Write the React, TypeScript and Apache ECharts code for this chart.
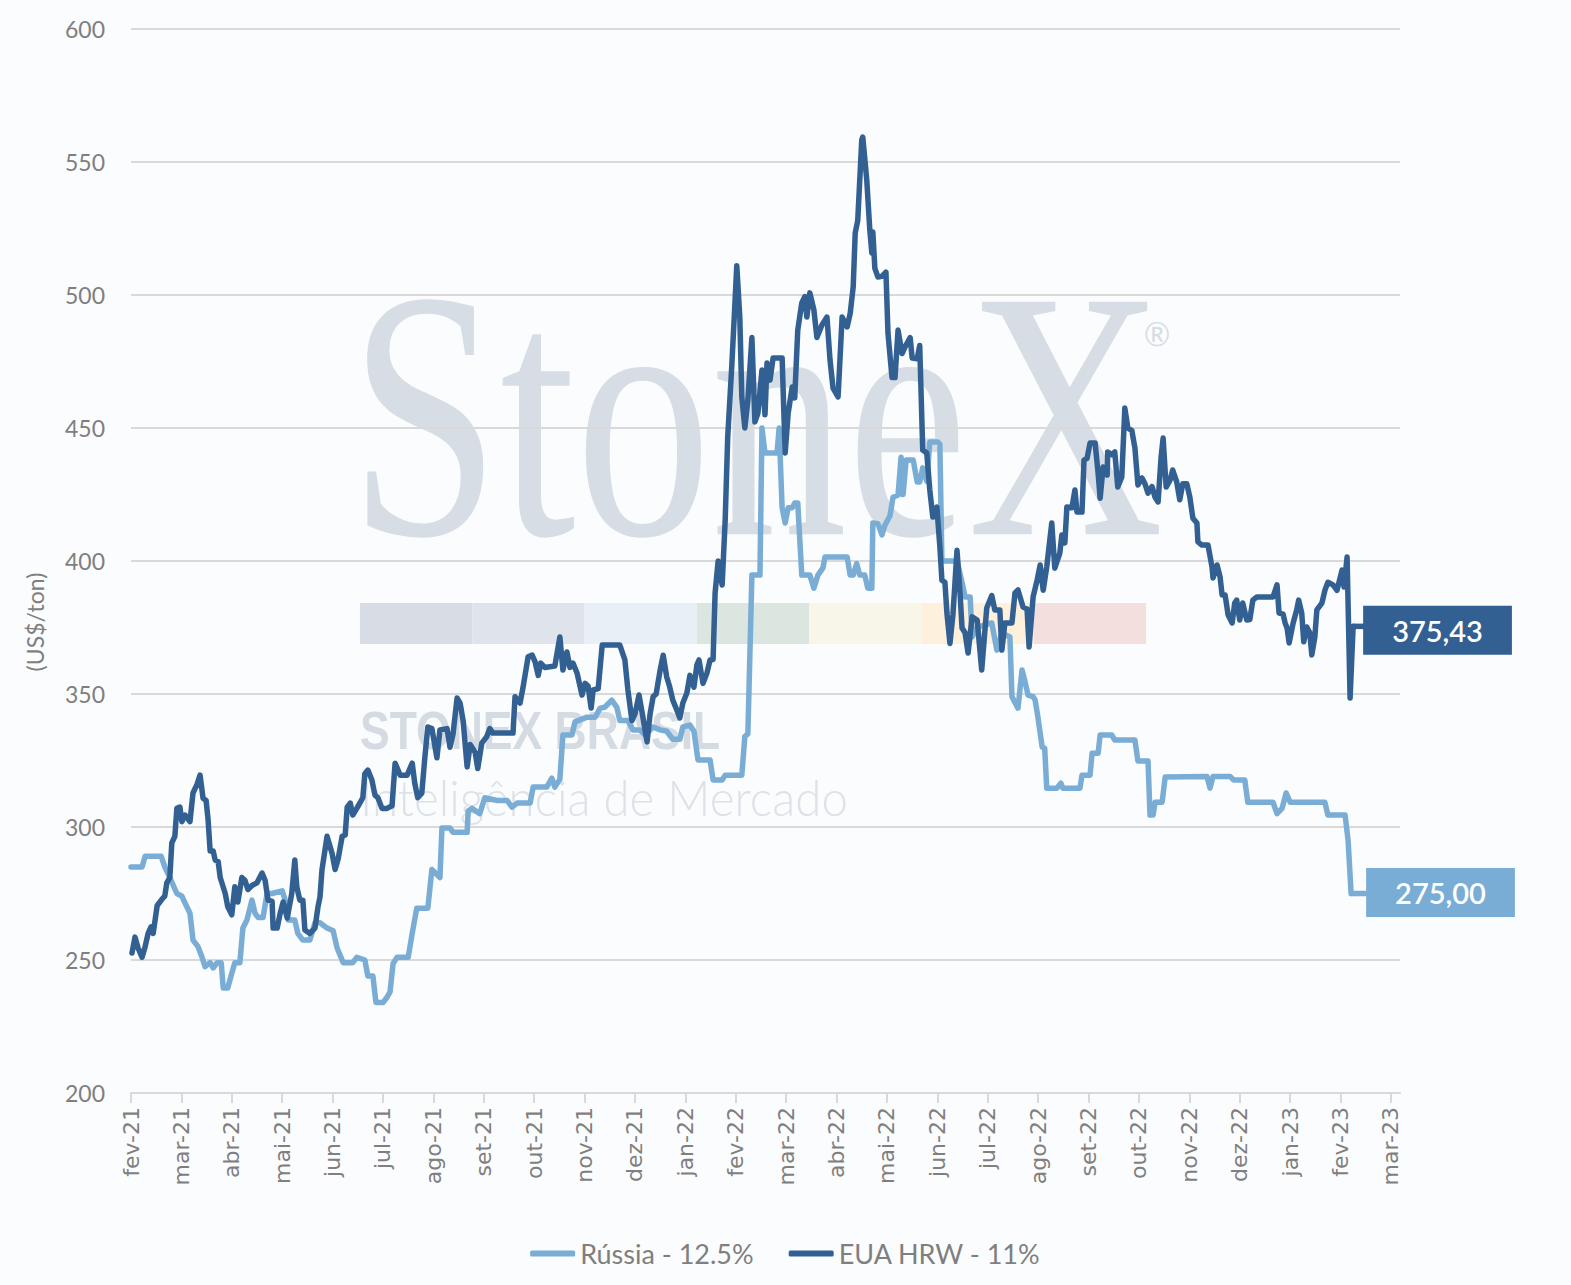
import React, { useEffect, useRef } from "react";
import * as echarts from "echarts";

const monthLabels = [
  "fev-21", "mar-21", "abr-21", "mai-21", "jun-21", "jul-21", "ago-21", "set-21", "out-21", "nov-21", "dez-21",
  "jan-22", "fev-22", "mar-22", "abr-22", "mai-22", "jun-22", "jul-22", "ago-22", "set-22", "out-22", "nov-22", "dez-22",
  "jan-23", "fev-23", "mar-23",
];
const monthTicks = monthLabels.map((_, i) => i);

const russiaName = "Rússia - 12.5%";
const euaName = "EUA HRW - 11%";
const yAxisTitle = "(US$/ton)";
const yMin = 200;
const yMax = 600;
const yStep = 50;

// [month index since fev-21, US$/ton]
const russia: [number, number][] = [
  [0, 285], [0.22, 285], [0.28, 289], [0.6, 289], [0.67, 285], [0.77, 281], [0.91, 275], [1.01, 274], [1.07, 271.5], [1.17, 267.6],
  [1.23, 257.5], [1.33, 255], [1.41, 251], [1.47, 247.5], [1.57, 249], [1.63, 247], [1.71, 249], [1.79, 249], [1.83, 239.5], [1.92, 239.5],
  [2.0, 245], [2.06, 249], [2.16, 249], [2.22, 262], [2.3, 265], [2.4, 272.5], [2.46, 267.6], [2.52, 266], [2.62, 266], [2.7, 275],
  [2.8, 275], [3.0, 276], [3.06, 272.5], [3.12, 265], [3.25, 265], [3.31, 260], [3.41, 257.5], [3.55, 257.5], [3.65, 264], [3.75, 264],
  [3.89, 262], [4.01, 261], [4.09, 254.5], [4.21, 249], [4.4, 249], [4.48, 251], [4.64, 250], [4.7, 244], [4.8, 244], [4.86, 234],
  [5.0, 234], [5.08, 236], [5.14, 238], [5.2, 248.7], [5.28, 251], [5.5, 251], [5.58, 260], [5.67, 269.5], [5.89, 269.5], [5.97, 284],
  [6.13, 281], [6.17, 299.6], [6.33, 299.6], [6.39, 298], [6.67, 298], [6.69, 306], [6.77, 307], [6.92, 305], [7.02, 311], [7.26, 310],
  [7.46, 310], [7.56, 307.5], [7.66, 309], [7.92, 309], [7.98, 315], [8.25, 315], [8.35, 318.4], [8.41, 315], [8.51, 318], [8.57, 334.6],
  [8.75, 334.6], [8.81, 339.5], [9.05, 341.3], [9.21, 341.3], [9.31, 344.7], [9.4, 345], [9.54, 347.7], [9.64, 345], [9.7, 340], [9.86, 340],
  [9.96, 336.5], [10.1, 336.5], [10.2, 334.6], [10.36, 337.6], [10.5, 336.5], [10.63, 336], [10.75, 333], [10.89, 333], [10.95, 337.6], [11.09, 338.3],
  [11.17, 336], [11.25, 325.2], [11.49, 325.2], [11.55, 317.7], [11.73, 317.7], [11.79, 319.5], [12.12, 319.5], [12.18, 334], [12.24, 335], [12.32, 394.7],
  [12.48, 394.7], [12.52, 450], [12.58, 440.6], [12.82, 440.6], [12.86, 450], [12.92, 420], [12.98, 414.3], [13.04, 420], [13.12, 420], [13.17, 421.8],
  [13.23, 421.8], [13.31, 394.7], [13.47, 394.7], [13.55, 389.8], [13.63, 394.7], [13.73, 397.4], [13.77, 401.5], [14.21, 401.5], [14.27, 394.7], [14.33, 394.7],
  [14.4, 399], [14.46, 394.7], [14.56, 394.7], [14.62, 389.8], [14.7, 389.8], [14.72, 414.3], [14.82, 414], [14.9, 409.8], [14.96, 413.5], [15.06, 417],
  [15.12, 424], [15.22, 424.8], [15.28, 439], [15.32, 425], [15.38, 438], [15.52, 438], [15.6, 429.7], [15.65, 429.7], [15.71, 435], [15.79, 430],
  [15.85, 444.7], [16.01, 444.7], [16.05, 444], [16.09, 400], [16.39, 400], [16.49, 392], [16.55, 386.5], [16.65, 386.5], [16.69, 371.4], [16.79, 375],
  [16.94, 376], [17.08, 376.7], [17.18, 366.5], [17.28, 372.9], [17.44, 371.4], [17.48, 349], [17.6, 344.7], [17.68, 359], [17.74, 354.6], [17.8, 349.6],
  [17.9, 349], [17.94, 347.7], [17.99, 342], [18.08, 330], [18.13, 329.7], [18.17, 314.6], [18.37, 314.6], [18.45, 316.5], [18.49, 314.6], [18.83, 314.6],
  [18.87, 319.5], [19.03, 319.5], [19.07, 327.7], [19.19, 327.7], [19.23, 334.6], [19.46, 334.6], [19.52, 332.7], [19.92, 332.7], [19.98, 324.8], [20.18, 324.8],
  [20.22, 304.5], [20.28, 304.5], [20.32, 309.3], [20.46, 309.3], [20.52, 318.8], [21.35, 319], [21.41, 314.6], [21.47, 319], [21.81, 319], [21.88, 317.7],
  [22.1, 317.7], [22.16, 309.3], [22.66, 309.3], [22.74, 305], [22.84, 307], [22.92, 312.8], [23.0, 309.3], [23.69, 309.3], [23.75, 304.5], [24.09, 304.5],
  [24.15, 295], [24.21, 275],
];

const eua: [number, number][] = [
  [0.02, 252.6], [0.08, 258.6], [0.14, 254.5], [0.22, 251], [0.28, 255], [0.34, 260], [0.4, 262.5], [0.44, 260], [0.52, 270.5], [0.62, 273],
  [0.67, 274], [0.71, 279], [0.77, 281], [0.81, 294], [0.87, 296.5], [0.91, 307], [0.97, 307.5], [1.01, 302], [1.07, 304.5], [1.17, 302],
  [1.23, 312.8], [1.31, 316], [1.37, 319.5], [1.43, 310.8], [1.49, 310], [1.53, 302.6], [1.57, 291], [1.63, 291], [1.67, 287.6], [1.73, 287],
  [1.77, 281], [1.87, 275], [1.92, 270], [2.0, 267], [2.06, 277.5], [2.12, 271.8], [2.2, 281], [2.26, 280], [2.32, 276.5], [2.4, 278],
  [2.5, 279], [2.6, 282.7], [2.66, 280], [2.72, 272.5], [2.8, 272], [2.82, 262], [2.9, 262], [2.96, 267.6], [3.02, 271.8], [3.1, 265.8],
  [3.19, 275], [3.25, 287.6], [3.29, 277.5], [3.35, 272.5], [3.41, 272.5], [3.45, 261.3], [3.55, 260], [3.65, 262], [3.71, 270], [3.75, 273.7],
  [3.79, 284], [3.89, 296.5], [3.99, 290], [4.05, 284], [4.11, 288], [4.19, 296.5], [4.25, 297], [4.29, 307.5], [4.35, 309], [4.4, 304.5],
  [4.48, 307], [4.54, 309], [4.6, 311], [4.64, 320], [4.7, 321.4], [4.78, 317.7], [4.84, 312], [4.9, 311], [4.98, 307], [5.08, 307],
  [5.18, 308], [5.24, 324], [5.34, 319.5], [5.48, 319.5], [5.58, 324], [5.63, 316.5], [5.69, 311], [5.77, 312.7], [5.83, 326], [5.89, 337.6],
  [5.97, 337], [6.07, 326], [6.13, 336.5], [6.27, 337], [6.33, 330], [6.39, 335], [6.47, 348.5], [6.53, 346.6], [6.59, 340], [6.67, 322.6],
  [6.73, 331], [6.83, 328], [6.88, 322], [6.96, 331.5], [7.06, 334], [7.12, 337], [7.18, 335.3], [7.58, 335.3], [7.62, 349], [7.72, 346.6],
  [7.78, 352.6], [7.88, 364], [7.96, 364.6], [8.02, 362], [8.08, 357], [8.13, 361.6], [8.21, 360], [8.41, 360.5], [8.51, 371.4], [8.57, 359],
  [8.65, 365.8], [8.71, 360], [8.77, 361.6], [8.85, 357.9], [8.95, 349.6], [9.01, 354], [9.07, 353], [9.13, 344.7], [9.17, 351.5], [9.27, 352],
  [9.35, 368.4], [9.7, 368.4], [9.8, 362.8], [9.86, 351.5], [9.94, 340], [10.0, 342.5], [10.08, 349.6], [10.16, 341], [10.24, 332], [10.3, 342.5],
  [10.36, 349], [10.42, 350], [10.5, 359], [10.56, 364.6], [10.63, 356.4], [10.69, 352.6], [10.75, 347.7], [10.83, 344], [10.89, 341], [10.95, 346.6],
  [11.03, 350.4], [11.09, 357], [11.17, 352.6], [11.23, 361], [11.27, 362.8], [11.35, 354], [11.43, 358], [11.49, 362.8], [11.55, 363], [11.59, 388],
  [11.65, 400], [11.73, 391], [11.79, 415.4], [11.84, 446.6], [11.92, 473], [11.98, 495.5], [12.02, 511], [12.08, 491.7], [12.12, 461.7], [12.18, 450],
  [12.24, 460.5], [12.32, 484], [12.38, 452.3], [12.44, 455.6], [12.52, 471.8], [12.58, 455], [12.62, 474.4], [12.68, 468], [12.74, 476.3], [12.92, 476.3],
  [12.98, 440.6], [13.04, 455.6], [13.12, 465.4], [13.17, 461.3], [13.23, 486.8], [13.31, 497], [13.37, 499.4], [13.41, 491.7], [13.47, 500.8], [13.55, 494.4],
  [13.61, 484], [13.71, 488.7], [13.81, 491.7], [13.87, 475.6], [13.93, 465], [14.03, 461.7], [14.11, 491.7], [14.21, 488], [14.27, 493], [14.33, 503],
  [14.37, 523.3], [14.42, 528], [14.5, 558.3], [14.52, 559.4], [14.6, 543], [14.66, 524.4], [14.7, 515.8], [14.72, 523.7], [14.76, 510], [14.82, 506.8],
  [14.9, 507], [14.98, 508.6], [15.02, 485.7], [15.1, 469], [15.16, 469], [15.22, 486.8], [15.3, 478], [15.36, 480.5], [15.46, 484], [15.5, 476.3],
  [15.6, 476], [15.65, 481], [15.71, 441.7], [15.79, 440.6], [15.85, 426.7], [15.91, 416.5], [15.99, 420.3], [16.05, 405.3], [16.09, 392.8], [16.15, 392],
  [16.19, 380.4], [16.25, 369], [16.31, 380], [16.39, 404], [16.45, 388], [16.49, 374.8], [16.55, 373], [16.61, 365.4], [16.69, 379], [16.79, 377.8],
  [16.88, 359], [16.98, 382.3], [17.08, 387], [17.14, 381.6], [17.24, 381.6], [17.28, 366.5], [17.34, 376.7], [17.48, 376.7], [17.54, 388], [17.6, 389.1],
  [17.7, 382.7], [17.78, 382], [17.82, 367.7], [17.9, 386.5], [17.98, 392.8], [18.04, 398.5], [18.1, 389], [18.17, 397.7], [18.27, 414.3], [18.33, 397.3],
  [18.43, 403], [18.47, 409.8], [18.53, 406.8], [18.57, 420.3], [18.67, 420], [18.73, 426.7], [18.77, 418.4], [18.87, 418.4], [18.91, 438], [18.97, 438.5],
  [19.03, 444.4], [19.13, 444.4], [19.19, 433], [19.23, 423.6], [19.29, 435.3], [19.37, 432.3], [19.38, 441], [19.46, 440], [19.52, 441], [19.58, 427.8],
  [19.66, 431.6], [19.72, 457.5], [19.78, 450], [19.86, 449], [19.92, 442.5], [19.98, 428.6], [20.06, 431.2], [20.12, 429], [20.18, 425.5], [20.26, 428],
  [20.32, 424], [20.38, 422.2], [20.44, 439.2], [20.48, 446.2], [20.54, 427.8], [20.62, 430.5], [20.67, 434.2], [20.75, 429.7], [20.81, 423], [20.87, 429],
  [20.95, 429], [21.01, 424], [21.07, 416.1], [21.15, 414.3], [21.17, 407.2], [21.25, 406], [21.37, 406], [21.45, 397.7], [21.47, 393.6], [21.55, 398.5],
  [21.61, 394], [21.65, 387.2], [21.71, 387.2], [21.77, 379.7], [21.85, 376.7], [21.9, 384.2], [21.94, 385.3], [22.0, 377.8], [22.06, 384.2], [22.14, 377.8],
  [22.2, 378], [22.26, 385.3], [22.34, 386.5], [22.66, 386.5], [22.74, 391], [22.78, 380.4], [22.86, 380], [22.9, 376.7], [22.94, 374.8], [22.98, 369.2],
  [23.06, 376.7], [23.13, 381.6], [23.17, 385.3], [23.23, 380.4], [23.27, 369.6], [23.33, 375.2], [23.39, 373], [23.43, 364.7], [23.49, 371.4], [23.53, 381.6],
  [23.63, 384.2], [23.69, 389], [23.75, 392], [23.85, 391], [23.93, 389], [24.03, 396.6], [24.07, 390.2], [24.13, 401.5], [24.19, 348.5], [24.25, 375.43],
];

const LIGHT = "#7aadd5";
const DARK = "#336092";
const TEXT = "#7f7f7f";
const GRIDC = "#d9d9d9";
const BG = "#fbfcfd";
const WM = "#d7dde5";
const barColors = ["#d8dce4", "#dfe4ec", "#e9eff7", "#dce6e1", "#f8f6e8", "#fdf0dd", "#f2dfde"];

const fmt = (v: number) => v.toFixed(2).replace(".", ",");

export default function App() {
  const ref = useRef<HTMLDivElement>(null);

  useEffect(() => {
    document.body.style.margin = "0";
    document.body.style.background = BG;
    const chart = echarts.init(ref.current!, null, { renderer: "svg" });

    const wmGraphics: any[] = [
      {
        id: "wm-stonex", type: "text", x: 349, y: 414, scaleX: 0.765, z: -1, silent: true,
        style: { text: "StoneX", font: '355px "Liberation Serif"', fill: WM, textAlign: "left", textVerticalAlign: "middle" },
      },
      {
        id: "wm-reg", type: "text", x: 1157, y: 333, z: -1, silent: true,
        style: { text: "®", font: '32px "Lato"', fill: WM, textAlign: "center", textVerticalAlign: "middle" },
      },
      ...barColors.map((c, i) => ({
        id: "wm-bar-" + i, type: "rect", z: -1, silent: true,
        shape: { x: 360 + i * 112.3, y: 603, width: 112.3, height: 41 },
        style: { fill: c },
      })),
      {
        id: "wm-brasil", type: "text", x: 360, y: 731, scaleX: 0.84, z: -1, silent: true,
        style: { text: "STONEX BRASIL", font: 'bold 53px "Liberation Sans"', fill: "#d5dbe3", textAlign: "left", textVerticalAlign: "middle" },
      },
      {
        id: "wm-intel", type: "text", x: 360, y: 797, scaleX: 0.95, z: -1, silent: true,
        style: { text: "Inteligência de Mercado", font: '300 50px "Lato"', fill: "#dde2e9", textAlign: "left", textVerticalAlign: "middle" },
      },
      {
        id: "y-title", type: "text", x: 35, y: 622, rotation: Math.PI / 2, silent: true,
        style: { text: yAxisTitle, font: '23px "Lato"', fill: TEXT, textAlign: "center", textVerticalAlign: "middle" },
      },
    ];

    const endLabel = (bg: string, distance: number, offsetY: number) => ({
      show: true,
      formatter: (p: any) => fmt(p.value[1]),
      color: "#ffffff",
      fontSize: 29,
      fontWeight: 600,
      fontFamily: "Lato",
      backgroundColor: bg,
      padding: [8, 29, 8, 29],
      lineHeight: 33,
      distance,
      offset: [0, offsetY],
    });

    chart.setOption({
      animation: false,
      backgroundColor: BG,
      grid: { left: 131, top: 29, width: 1269, height: 1064, containLabel: false },
      graphic: { elements: wmGraphics },
      legend: {
        data: [russiaName, euaName],
        top: 1235,
        left: "center",
        icon: "roundRect",
        itemWidth: 45,
        itemHeight: 6,
        itemGap: 35,
        textStyle: { fontSize: 27, color: TEXT, fontFamily: "Lato" },
      },
      xAxis: {
        type: "value",
        min: 0,
        max: 25.18,
        axisLine: { show: true, lineStyle: { color: GRIDC, width: 2 } },
        axisTick: { show: true, customValues: monthTicks, length: 10, lineStyle: { color: GRIDC, width: 2 } },
        axisLabel: {
          customValues: monthTicks,
          rotate: 90,
          margin: 14,
          fontSize: 22,
          color: TEXT,
          fontFamily: "DejaVu Sans",
          formatter: (v: number) => monthLabels[Math.round(v)] ?? "",
        },
        splitLine: { show: false },
      },
      yAxis: {
        type: "value",
        min: yMin,
        max: yMax,
        interval: yStep,
        axisLine: { show: false },
        axisTick: { show: false },
        axisLabel: { fontSize: 23, color: TEXT, margin: 26, fontFamily: "Lato" },
        splitLine: { lineStyle: { color: GRIDC, width: 2 } },
      },
      series: [
        {
          name: russiaName,
          type: "line",
          data: russia,
          symbol: "none",
          showSymbol: false,
          color: LIGHT,
          lineStyle: { color: LIGHT, width: 5.5, join: "round", cap: "round" },
          endLabel: endLabel(LIGHT, 15, -1),
          z: 3,
        },
        {
          name: euaName,
          type: "line",
          data: eua,
          symbol: "none",
          showSymbol: false,
          color: DARK,
          lineStyle: { color: DARK, width: 5.5, join: "round", cap: "round" },
          endLabel: endLabel(DARK, 10, 4),
          z: 4,
        },
      ],
    });

    const lr = russia[russia.length - 1];
    const le = eua[eua.length - 1];
    const pr = chart.convertToPixel({ gridIndex: 0 }, lr) as number[];
    const pe = chart.convertToPixel({ gridIndex: 0 }, le) as number[];
    chart.setOption({
      graphic: {
        elements: [
          {
            id: "conn-r", type: "line", z: 3, silent: true,
            shape: { x1: pr[0], y1: pr[1], x2: pr[0] + 16, y2: pr[1] },
            style: { stroke: LIGHT, lineWidth: 5.5 },
          },
          {
            id: "conn-e", type: "line", z: 4, silent: true,
            shape: { x1: pe[0], y1: pe[1], x2: pe[0] + 11, y2: pe[1] },
            style: { stroke: DARK, lineWidth: 5.5 },
          },
        ],
      },
    });

    return () => chart.dispose();
  }, []);

  return <div ref={ref} style={{ width: 1571, height: 1285 }} />;
}
